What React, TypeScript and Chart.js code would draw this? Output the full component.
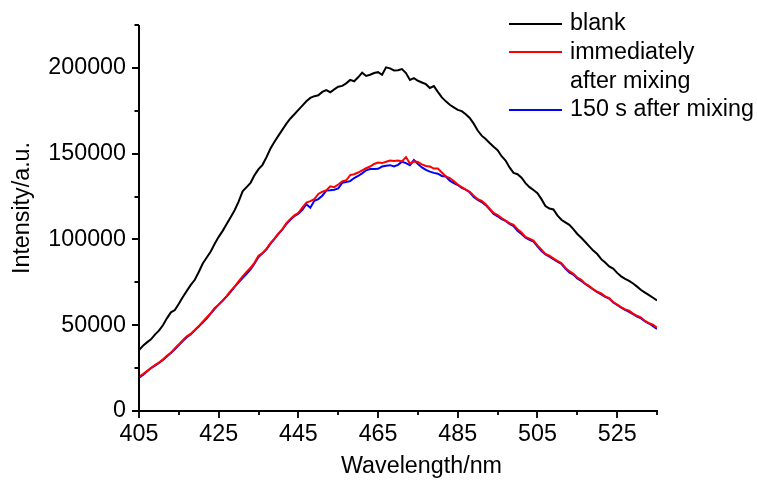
import React, { useEffect, useRef } from 'react';
import { Chart, registerables } from 'chart.js';
Chart.register(...registerables);

const wavelengths = [
  405, 406, 407, 408, 409, 410, 411, 412, 413, 414, 415, 416, 417, 418, 419, 420, 421, 422, 423, 424,
  425, 426, 427, 428, 429, 430, 431, 432, 433, 434, 435, 436, 437, 438, 439, 440, 441, 442, 443, 444,
  445, 446, 447, 448, 449, 450, 451, 452, 453, 454, 455, 456, 457, 458, 459, 460, 461, 462, 463, 464,
  465, 466, 467, 468, 469, 470, 471, 472, 473, 474, 475, 476, 477, 478, 479, 480, 481, 482, 483, 484,
  485, 486, 487, 488, 489, 490, 491, 492, 493, 494, 495, 496, 497, 498, 499, 500, 501, 502, 503, 504,
  505, 506, 507, 508, 509, 510, 511, 512, 513, 514, 515, 516, 517, 518, 519, 520, 521, 522, 523, 524,
  525, 526, 527, 528, 529, 530, 531, 532, 533, 534, 535,
];

const blank = [
  35500, 38000, 40000, 41800, 44500, 46800, 50000, 54000, 57500, 58800, 62500, 66500, 70000, 73500, 76500, 81000, 86000, 89500, 93000, 97500,
  101500, 105000, 109000, 113000, 117000, 122000, 128000, 130500, 133000, 137500, 141000, 143500, 148000, 153000, 157000, 160500, 164000, 167500, 170500, 173000,
  175500, 178000, 180500, 182500, 183500, 184000, 186000, 187000, 185800, 187500, 189000, 189500, 191000, 193000, 192200, 194500, 197200, 195300, 196000, 197000,
  197500, 196000, 200300, 199700, 198500, 198600, 199300, 197000, 193000, 194000, 192500, 191500, 190500, 188300, 189400, 186000, 182800, 180500, 178500, 177000,
  175500, 174800, 173000, 170800, 167500, 163500, 160500, 158500, 156200, 154000, 152000, 148500, 146000, 142000, 138800, 138000, 136000, 132800, 130500, 128800,
  127000, 123500, 119500, 118000, 117500, 114000, 111500, 110000, 108500, 106000, 103200, 101000, 98500, 96000, 93500, 91500, 88500, 86500, 84300, 83000,
  80500, 78500, 77000, 75800, 74300, 72500, 70500, 69000, 67500, 66000, 64500,
];

const immediately = [
  20000, 21500, 23300, 25000, 26800, 28200, 30000, 32200, 34000, 36500, 38800, 41200, 43500, 45000, 47200, 49500, 52000, 54500, 57000, 60000,
  62000, 64500, 67000, 70000, 72500, 75500, 78500, 81000, 83500, 86500, 90500, 92000, 94500, 97800, 100500, 103500, 106000, 109500, 112000, 114000,
  115500, 118500, 121500, 122300, 123500, 126500, 127800, 128500, 131000, 130500, 132000, 133800, 134500, 137500, 138000, 139000, 140300, 141500, 142500, 144000,
  144800, 144500, 145300, 146000, 145800, 146000, 145500, 148000, 144200, 145500, 145200, 143800, 142800, 142500, 141300, 141300, 139000, 136800, 135800, 134000,
  132000, 130500, 129000, 127800, 125500, 123500, 122500, 120500, 118000, 115500, 114200, 112500, 111000, 109500, 108500, 106000, 104000, 101500, 100500, 99300,
  96500, 94000, 91500, 90500, 89000, 87500, 86200, 83500, 81500, 80000, 77800, 76500, 74200, 72800, 71000, 69500, 68500, 66800, 65800, 63500,
  62000, 60500, 59200, 58500, 56800, 55500, 54500, 52500, 51200, 50300, 48500,
];

const after150s = [
  19500, 21000, 23000, 25000, 26500, 28000, 29800, 31800, 33800, 36000, 38500, 40800, 43000, 44800, 47000, 49200, 51500, 54000, 56800, 59500,
  62000, 64300, 66800, 69500, 72300, 75000, 77500, 80000, 82500, 86000, 89800, 92000, 94300, 97500, 100300, 103200, 105800, 109000, 111500, 113500,
  115000, 117300, 120500, 118500, 122500, 123500, 125500, 128500, 128700, 129000, 129800, 133000, 133500, 134000, 135800, 137000, 138500, 140300, 141000, 141000,
  141200, 142500, 143000, 143300, 142500, 143500, 145300, 144500, 143300, 146300, 144000, 142000, 140500, 139500, 138800, 138300, 137000, 136700, 134300, 132800,
  131700, 130000, 129000, 127500, 124800, 123000, 121800, 120000, 117500, 114800, 113500, 111800, 110800, 109000, 107800, 105000, 103200, 101000, 99800, 98800,
  96000, 93300, 91300, 90000, 88500, 87000, 85800, 83000, 80800, 79500, 77300, 75800, 74000, 72500, 70800, 69300, 68000, 66500, 65500, 63300,
  61800, 60200, 59000, 57800, 56500, 55000, 54000, 52200, 51000, 49500, 47800,
];

const xMajorTicks = [405, 425, 445, 465, 485, 505, 525];
const xMinorTicks = [415, 435, 455, 475, 495, 515, 535];
const yMajorTicks = [0, 50000, 100000, 150000, 200000];
const yMinorTicks = [25000, 75000, 125000, 175000, 225000];

const seriesNames = ['blank', 'immediately|after mixing', '150 s after mixing'];
const seriesColors = ['#000000', '#ff0000', '#0000ff'];
const xTitle = 'Wavelength/nm';
const yTitle = 'Intensity/a.u.';

const FONT = '"Liberation Sans", Arial, sans-serif';
const FS = 23.3;

export default function App() {
  const ref = useRef<HTMLCanvasElement | null>(null);
  useEffect(() => {
    document.body.style.margin = '0';
    const canvas = ref.current!;
    const toPts = (arr: number[]) => arr.map((v, i) => ({ x: wavelengths[i], y: v }));
    const decor = {
      id: 'decor',
      afterDraw(chart: any) {
        const ctx = chart.ctx as CanvasRenderingContext2D;
        const { left, right, top, bottom } = chart.chartArea;
        const xs = chart.scales.x;
        const ys = chart.scales.y;
        ctx.save();
        ctx.strokeStyle = '#000';
        ctx.lineWidth = 2;
        ctx.beginPath();
        ctx.moveTo(left, top);
        ctx.lineTo(left, bottom);
        ctx.lineTo(right + 1, bottom);
        ctx.stroke();
        ctx.lineWidth = 1.8;
        ctx.beginPath();
        xMajorTicks.forEach((v) => {
          const p = Math.round(xs.getPixelForValue(v));
          ctx.moveTo(p, bottom);
          ctx.lineTo(p, bottom + 7);
        });
        xMinorTicks.forEach((v) => {
          const p = Math.round(xs.getPixelForValue(v));
          ctx.moveTo(p, bottom);
          ctx.lineTo(p, bottom + 4);
        });
        yMajorTicks.forEach((v) => {
          const p = Math.round(ys.getPixelForValue(v));
          ctx.moveTo(left, p);
          ctx.lineTo(left - 7, p);
        });
        yMinorTicks.forEach((v) => {
          const p = Math.round(ys.getPixelForValue(v));
          ctx.moveTo(left, p);
          ctx.lineTo(left - 4.5, p);
        });
        ctx.stroke();

        ctx.fillStyle = '#000';
        ctx.font = `${FS}px ${FONT}`;
        ctx.textAlign = 'left';
        ctx.textBaseline = 'middle';
        ctx.fillText(xTitle, 341, 467);
        ctx.save();
        ctx.translate(23, 208);
        ctx.rotate(-Math.PI / 2);
        ctx.textAlign = 'center';
        ctx.fillText(yTitle, 0, 0);
        ctx.restore();

        // legend
        const rows = [24, 52, 110];
        const textRows = [[24], [53, 82], [110]];
        seriesNames.forEach((name, i) => {
          ctx.strokeStyle = seriesColors[i];
          ctx.lineWidth = 2;
          ctx.beginPath();
          ctx.moveTo(509, rows[i]);
          ctx.lineTo(562, rows[i]);
          ctx.stroke();
          name.split('|').forEach((line, j) => {
            ctx.fillStyle = '#000';
            ctx.fillText(line, 570, textRows[i][j]);
          });
        });
        ctx.restore();
      },
    };
    const chart = new Chart(canvas, {
      type: 'line',
      data: {
        datasets: [
          { label: 'blank', data: toPts(blank), borderColor: seriesColors[0], borderWidth: 2, pointRadius: 0, fill: false, tension: 0 },
          { label: 'immediately after mixing', data: toPts(immediately), borderColor: seriesColors[1], borderWidth: 2, pointRadius: 0, fill: false, tension: 0 },
          { label: '150 s after mixing', data: toPts(after150s), borderColor: seriesColors[2], borderWidth: 2, pointRadius: 0, fill: false, tension: 0 },
        ],
      },
      options: {
        animation: false,
        responsive: false,
        devicePixelRatio: 1,
        layout: { padding: { left: 0, top: 25, right: 100, bottom: 0 } },
        plugins: { legend: { display: false }, tooltip: { enabled: false } },
        scales: {
          x: {
            type: 'linear',
            min: 405,
            max: 535,
            grid: { display: false },
            border: { display: false },
            afterBuildTicks: (s: any) => { s.ticks = xMajorTicks.map((v) => ({ value: v })); },
            afterFit: (s: any) => { s.height = 70; },
            ticks: { color: '#000', font: { family: FONT, size: FS }, padding: 2, maxRotation: 0, autoSkip: false, callback: (v: any) => String(v) },
          },
          y: {
            type: 'linear',
            min: 0,
            max: 225000,
            grid: { display: false },
            border: { display: false },
            afterBuildTicks: (s: any) => { s.ticks = yMajorTicks.map((v) => ({ value: v })); },
            afterFit: (s: any) => { s.width = 139; },
            ticks: { color: '#000', font: { family: FONT, size: FS }, padding: 5, autoSkip: false, callback: (v: any) => String(v) },
          },
        },
      },
      plugins: [decor],
    });
    return () => chart.destroy();
  }, []);
  return (
    <div style={{ position: 'absolute', left: 0, top: 0, width: 757, height: 481, background: '#fff' }}>
      <canvas ref={ref} width={757} height={481} style={{ width: 757, height: 481, display: 'block' }} />
    </div>
  );
}
